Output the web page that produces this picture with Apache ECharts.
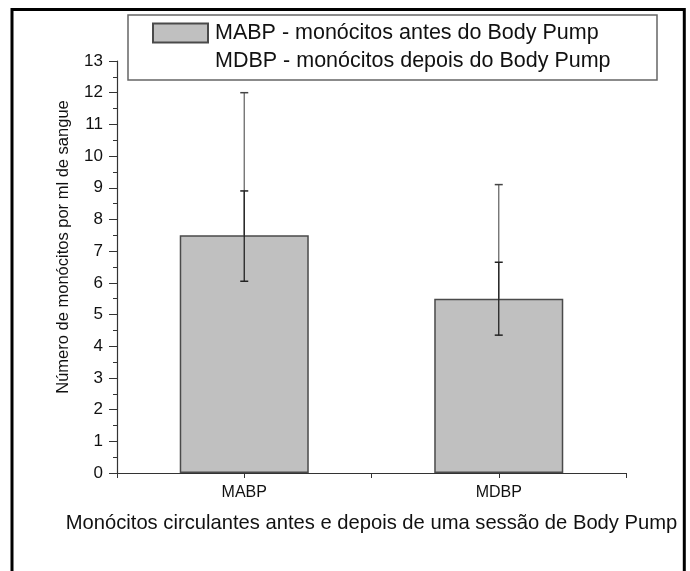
<!DOCTYPE html>
<html>
<head>
<meta charset="utf-8">
<script src="https://cdn.jsdelivr.net/npm/echarts@6/dist/echarts.min.js"></script>
<style>
  html, body {margin: 0; padding: 0; background: #fff;}
  #chart {width: 690px; height: 571px;}
</style>
</head>
<body>
<div id="chart"></div>
<script>
// valores
const categories = ['MABP', 'MDBP'];
const means = [7.5, 5.5];
const innerLow = [6.05, 4.35];
const innerHigh = [8.9, 6.65];
const outerHigh = [12.0, 9.1];
const legendNames = ['MABP - monócitos antes do Body Pump', 'MDBP - monócitos depois do Body Pump'];
const yName = 'Número de monócitos por ml de sangue';
const xName = 'Monócitos circulantes antes e depois de uma sessão de Body Pump';

const font = '"Liberation Sans", Arial, sans-serif';

const chart = echarts.init(document.getElementById('chart'));

const errRender = (lineColor, capColor, capBottom) => (params, api) => {
    const idx = api.value(0);
    const lo = api.coord([idx, api.value(1)]);
    const hi = api.coord([idx, api.value(2)]);
    const half = 4;
    const children = [
        {type: 'line', shape: {x1: hi[0], y1: hi[1], x2: lo[0], y2: lo[1]}, style: {stroke: lineColor, lineWidth: 1.3}},
        {type: 'line', shape: {x1: hi[0] - half, y1: hi[1], x2: hi[0] + half, y2: hi[1]}, style: {stroke: capColor, lineWidth: 1.5}},
    ];
    if (capBottom) {
        children.push({type: 'line', shape: {x1: lo[0] - half, y1: lo[1], x2: lo[0] + half, y2: lo[1]}, style: {stroke: capColor, lineWidth: 1.5}});
    }
    return {type: 'group', children};
};

const option = {
    backgroundColor: '#fff',
    animation: false,
    textStyle: {fontFamily: font},
    grid: {left: 117, right: 64, top: 61, bottom: 98},
    legend: {
        orient: 'vertical',
        left: 152,
        top: 22,
        padding: 0,
        itemGap: 6,
        itemWidth: 55,
        itemHeight: 19,
        selectedMode: false,
        textStyle: {fontSize: 21.5, color: '#111', fontFamily: font, padding: [0, 0, 0, 2]},
        data: [
            {name: legendNames[0], icon: 'rect'},
            {name: legendNames[1], icon: 'none'},
        ],
    },
    graphic: [
        {
            type: 'rect',
            shape: {x: 12, y: 9.5, width: 672.3, height: 600},
            style: {fill: 'none', stroke: '#000', lineWidth: 3},
            silent: true,
        },
        {
            type: 'rect',
            shape: {x: 128, y: 15, width: 529, height: 65},
            style: {fill: 'none', stroke: '#666', lineWidth: 1.5},
            silent: true,
        },
    ],
    xAxis: [
        {
            type: 'category',
            data: categories,
            name: xName,
            nameLocation: 'middle',
            nameGap: 40,
            nameTextStyle: {fontSize: 20.2, color: '#111', fontFamily: font},
            axisLine: {lineStyle: {color: '#333', width: 1.2}},
            axisTick: {show: true, length: 5, inside: false, lineStyle: {color: '#333'}},
            axisLabel: {fontSize: 16, color: '#111', margin: 12, fontFamily: font},
            splitLine: {show: false},
        },
        {
            // ticks no centro das categorias
            type: 'category',
            data: categories,
            position: 'bottom',
            axisLine: {show: false},
            axisTick: {show: true, alignWithLabel: true, length: 5, lineStyle: {color: '#333'}},
            axisLabel: {show: false},
            splitLine: {show: false},
        },
    ],
    yAxis: {
        type: 'value',
        min: 0,
        max: 13,
        interval: 1,
        name: yName,
        nameLocation: 'middle',
        nameRotate: 90,
        nameGap: 45,
        nameTextStyle: {fontSize: 16.5, color: '#111', fontFamily: font, padding: [0, 0, 0, 40]},
        axisLine: {show: true, lineStyle: {color: '#333', width: 1.2}},
        axisTick: {show: true, length: 8, lineStyle: {color: '#333'}},
        minorTick: {show: true, splitNumber: 2, length: 4, lineStyle: {color: '#333'}},
        axisLabel: {fontSize: 17, color: '#111', margin: 14, fontFamily: font},
        splitLine: {show: false},
        minorSplitLine: {show: false},
    },
    series: [
        {
            name: legendNames[0],
            type: 'bar',
            data: means,
            barWidth: '50.7%',
            itemStyle: {color: '#c0c0c0', borderColor: '#4a4a4a', borderWidth: 1.5},
            z: 2,
        },
        {
            name: 'outer',
            type: 'custom',
            renderItem: errRender('#6a6a6a', '#444', false),
            data: categories.map((c, i) => [i, means[i], outerHigh[i]]),
            z: 3,
        },
        {
            name: legendNames[1],
            type: 'custom',
            renderItem: errRender('#222', '#222', true),
            data: categories.map((c, i) => [i, innerLow[i], innerHigh[i]]),
            z: 4,
        },
    ],
};

chart.setOption(option);
</script>
</body>
</html>
